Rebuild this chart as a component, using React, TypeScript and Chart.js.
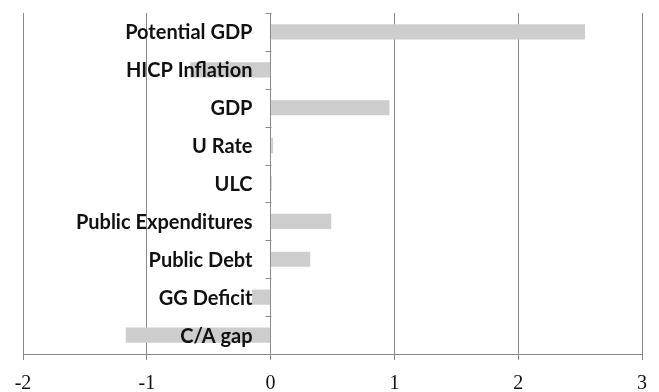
import React, { useEffect, useRef } from "react";
import { Chart, registerables } from "chart.js";

Chart.register(...registerables);

// Indicator names, listed top to bottom
const categories: string[] = [
  "Potential GDP",
  "HICP Inflation",
  "GDP",
  "U Rate",
  "ULC",
  "Public Expenditures",
  "Public Debt",
  "GG Deficit",
  "C/A gap",
];

// Value for each indicator
const values: number[] = [2.54, -0.65, 0.96, 0.02, 0.01, 0.49, 0.32, -0.15, -1.17];

// Horizontal value axis
const xMin = -2;
const xMax = 3;
const xStep = 1;

const gridGray = "#8a8a8a";

// Category axis drawn along the zero line: boundary tick marks and
// right-aligned names sitting on top of the bars.
const zeroAxisLabels = {
  id: "zeroAxisLabels",
  afterDatasetsDraw(chart: any) {
    const { ctx } = chart;
    const xs = chart.scales.x;
    const ys = chart.scales.y;
    const x0 = Math.round(xs.getPixelForValue(0)) + 0.5;
    ctx.save();
    ctx.strokeStyle = gridGray;
    ctx.lineWidth = 1;
    ctx.beginPath();
    for (let i = 0; i <= categories.length; i++) {
      const yy = Math.round(ys.getPixelForValue(i - 0.5)) + 0.5;
      ctx.moveTo(x0 - 6, yy);
      ctx.lineTo(x0, yy);
    }
    ctx.stroke();
    ctx.fillStyle = "#111";
    ctx.font = "bold 20px Lato, 'Open Sans', sans-serif";
    ctx.textAlign = "right";
    ctx.textBaseline = "middle";
    categories.forEach((name, i) => {
      ctx.fillText(name, x0 - 19, ys.getPixelForValue(i) + 1);
    });
    ctx.restore();
  },
};

export default function App() {
  const canvasRef = useRef<HTMLCanvasElement | null>(null);

  useEffect(() => {
    if (!canvasRef.current) return;
    const chart = new Chart(canvasRef.current, {
      type: "bar",
      data: {
        labels: categories,
        datasets: [
          {
            data: values,
            backgroundColor: "#cdcdcd",
            borderWidth: 0,
            barPercentage: 1,
            categoryPercentage: 0.4,
          },
        ],
      },
      options: {
        indexAxis: "y",
        animation: false,
        responsive: true,
        maintainAspectRatio: false,
        layout: { padding: { left: 23, right: 15, top: 13, bottom: 0 } },
        plugins: {
          legend: { display: false },
          tooltip: { enabled: false },
        },
        scales: {
          x: {
            type: "linear",
            min: xMin,
            max: xMax,
            ticks: {
              stepSize: xStep,
              color: "#111",
              padding: 12,
              font: { family: "'Liberation Serif', serif", size: 20 },
            },
            grid: {
              color: gridGray,
              lineWidth: 1,
              drawTicks: true,
              tickLength: 6,
              tickColor: gridGray,
            },
            border: { display: true, color: gridGray },
            afterFit: (scale: any) => {
              scale.height = 38;
            },
          },
          y: {
            type: "category",
            display: false,
            offset: true,
          },
        },
      },
      plugins: [zeroAxisLabels],
    });
    return () => chart.destroy();
  }, []);

  return (
    <div style={{ position: "absolute", left: 0, top: 0, width: 659, height: 392, background: "#fff" }}>
      <canvas ref={canvasRef} />
    </div>
  );
}
